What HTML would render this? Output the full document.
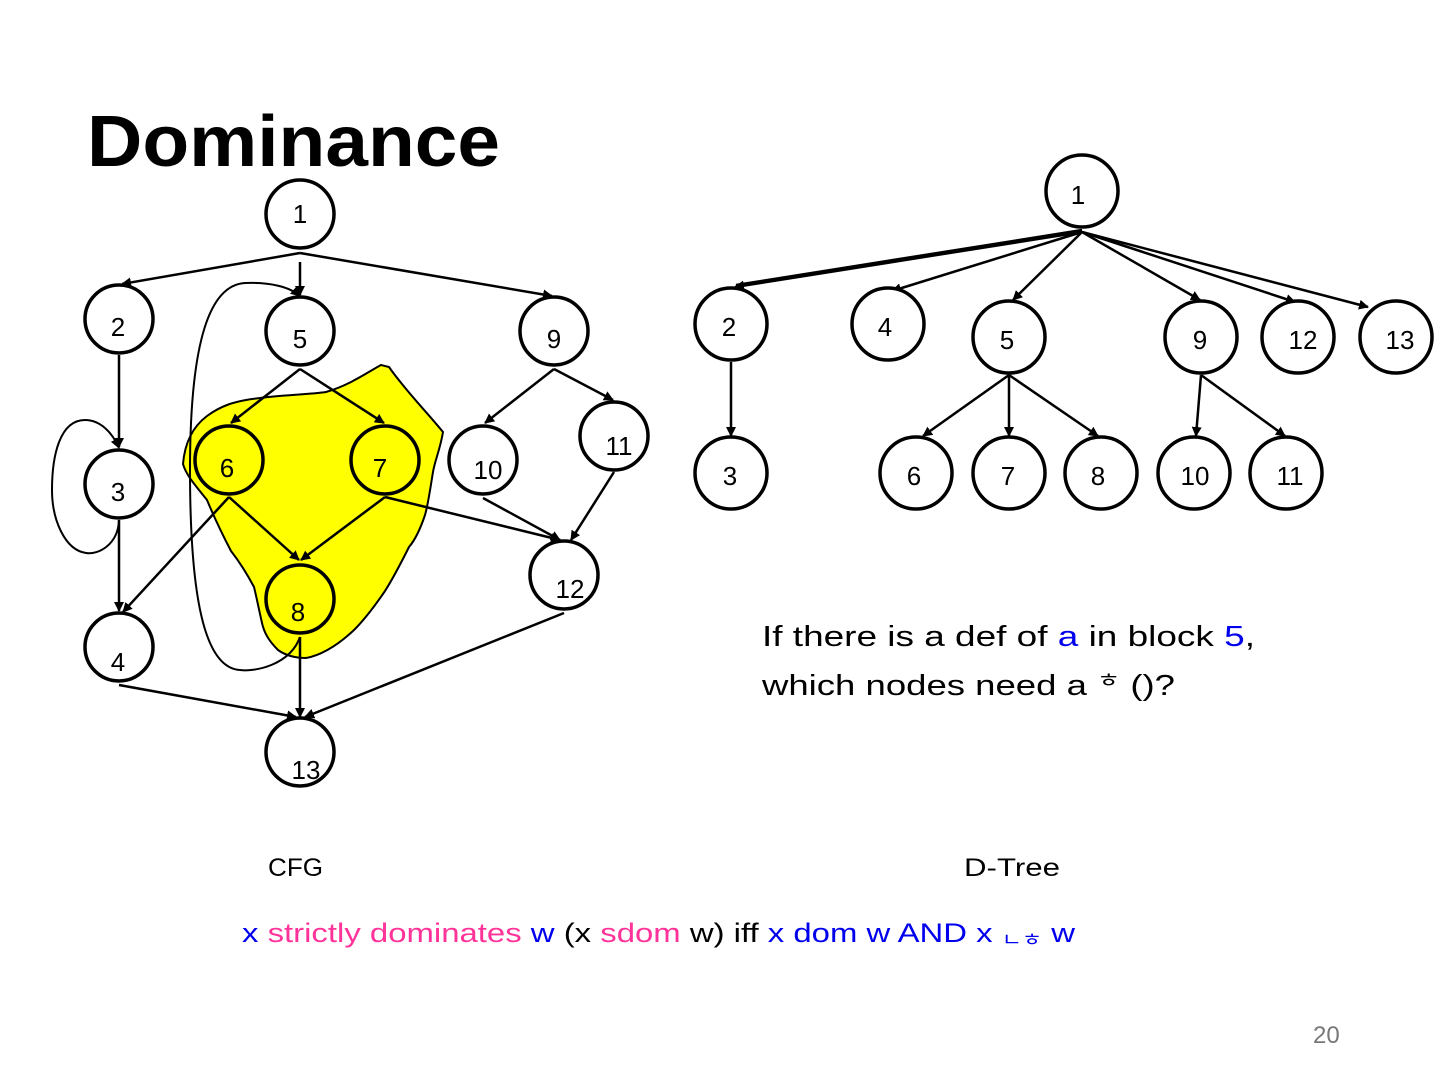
<!DOCTYPE html>
<html><head><meta charset="utf-8"><style>
html,body{margin:0;padding:0;background:#fff;}
svg{display:block;font-family:"Liberation Sans","Noto Sans CJK KR",sans-serif;}
</style></head><body>
<svg width="1440" height="1080" viewBox="0 0 1440 1080" xmlns="http://www.w3.org/2000/svg">
<defs>
<marker id="a" markerWidth="10" markerHeight="10" refX="9" refY="5" orient="auto" markerUnits="userSpaceOnUse">
<path d="M0,0 L10,5 L0,10 Z" fill="#000"/></marker>
</defs>
<text x="87" y="166" font-size="72" font-weight="bold" textLength="413" lengthAdjust="spacingAndGlyphs">Dominance</text>

<path d="M183,464 C185,440 195,425 207,416 C222,405 235,402 246,400 C275,395 305,395 326,392 C350,385 368,372 381,365 L389,367 C405,390 425,410 443,432 C440,450 435,460 433,472 C430,490 428,505 425,515 C420,530 415,540 409,547 C400,565 392,580 385,591 C372,610 362,622 354,630 C335,648 318,656 306,658 C295,658 285,655 278,650 C268,640 264,632 262,623 C258,605 256,595 254,587 C245,570 238,560 231,551 C220,530 212,512 207,500 C195,485 186,475 183,464 Z" fill="#ffff00" stroke="#000" stroke-width="2"/>

<g stroke="#000" stroke-width="2.5" fill="none">
<line x1="300" y1="253" x2="122" y2="284" marker-end="url(#a)"/>
<line x1="300" y1="253" x2="552" y2="296" marker-end="url(#a)"/>
<line x1="300" y1="262" x2="300" y2="295" marker-end="url(#a)"/>
<path d="M300,637 C290,665 255,672 240,670 C205,668 190,600 190,470 C190,340 210,285 245,283 C270,282 290,287 300,296" stroke-width="2" marker-end="url(#a)"/>
<line x1="119" y1="355" x2="119" y2="447" marker-end="url(#a)"/>
<path d="M119,520 C118,545 98,555 86,553 C65,550 52,520 52,490 C52,455 60,420 85,420 C100,420 112,432 119,448" stroke-width="2" marker-end="url(#a)"/>
<line x1="119" y1="520" x2="119" y2="611" marker-end="url(#a)"/>
<line x1="300" y1="369" x2="231" y2="423" marker-end="url(#a)"/>
<line x1="300" y1="369" x2="384" y2="423" marker-end="url(#a)"/>
<line x1="554" y1="369" x2="485" y2="423" marker-end="url(#a)"/>
<line x1="554" y1="369" x2="613" y2="400" marker-end="url(#a)"/>
<line x1="229" y1="497" x2="299" y2="560" marker-end="url(#a)"/>
<line x1="385" y1="497" x2="301" y2="560" marker-end="url(#a)"/>
<line x1="229" y1="497" x2="123" y2="612" marker-end="url(#a)"/>
<line x1="385" y1="497" x2="560" y2="540" marker-end="url(#a)"/>
<line x1="483" y1="498" x2="560" y2="540" marker-end="url(#a)"/>
<line x1="614" y1="472" x2="571" y2="540" marker-end="url(#a)"/>
<line x1="300" y1="637" x2="300" y2="717" marker-end="url(#a)"/>
<line x1="119" y1="685" x2="296" y2="717" marker-end="url(#a)"/>
<line x1="564" y1="613" x2="305" y2="717" marker-end="url(#a)"/>

<line x1="1082" y1="232" x2="735" y2="287" marker-end="url(#a)"/>
<line x1="1082" y1="230" x2="736" y2="285"/>
<line x1="1082" y1="232" x2="892" y2="291" marker-end="url(#a)"/>
<line x1="1082" y1="232" x2="1013" y2="300" marker-end="url(#a)"/>
<line x1="1082" y1="232" x2="1200" y2="300" marker-end="url(#a)"/>
<line x1="1082" y1="232" x2="1295" y2="302" marker-end="url(#a)"/>
<line x1="1082" y1="232" x2="1368" y2="307" marker-end="url(#a)"/>
<line x1="731" y1="362" x2="731" y2="436" marker-end="url(#a)"/>
<line x1="1009" y1="375" x2="923" y2="436" marker-end="url(#a)"/>
<line x1="1009" y1="375" x2="1009" y2="436" marker-end="url(#a)"/>
<line x1="1009" y1="375" x2="1098" y2="436" marker-end="url(#a)"/>
<line x1="1201" y1="375" x2="1196" y2="436" marker-end="url(#a)"/>
<line x1="1201" y1="375" x2="1285" y2="436" marker-end="url(#a)"/>
</g>

<g stroke="#000" stroke-width="3.5">
<circle cx="300" cy="214" r="34" fill="#fff"/>
<circle cx="119" cy="319" r="34" fill="#fff"/>
<circle cx="300" cy="331" r="34" fill="#fff"/>
<circle cx="554" cy="331" r="34" fill="#fff"/>
<circle cx="119" cy="484" r="34" fill="#fff"/>
<circle cx="229" cy="460" r="34" fill="#ffff00"/>
<circle cx="385" cy="460" r="34" fill="#ffff00"/>
<circle cx="483" cy="460" r="34" fill="#fff"/>
<circle cx="614" cy="436" r="34" fill="#fff"/>
<circle cx="564" cy="575" r="34" fill="#fff"/>
<circle cx="300" cy="599" r="34" fill="#ffff00"/>
<circle cx="119" cy="647" r="34" fill="#fff"/>
<circle cx="300" cy="752" r="34" fill="#fff"/>
<ellipse cx="1082" cy="191" rx="36" ry="36" fill="#fff"/>
<ellipse cx="731" cy="324" rx="36" ry="36" fill="#fff"/>
<ellipse cx="888" cy="324" rx="36" ry="36" fill="#fff"/>
<ellipse cx="1009" cy="337" rx="36" ry="36" fill="#fff"/>
<ellipse cx="1201" cy="337" rx="36" ry="36" fill="#fff"/>
<ellipse cx="1298" cy="337" rx="36" ry="36" fill="#fff"/>
<ellipse cx="1396" cy="337" rx="36" ry="36" fill="#fff"/>
<ellipse cx="731" cy="473" rx="36" ry="36" fill="#fff"/>
<ellipse cx="916" cy="473" rx="36" ry="36" fill="#fff"/>
<ellipse cx="1009" cy="473" rx="36" ry="36" fill="#fff"/>
<ellipse cx="1101" cy="473" rx="36" ry="36" fill="#fff"/>
<ellipse cx="1194" cy="473" rx="36" ry="36" fill="#fff"/>
<ellipse cx="1286" cy="473" rx="36" ry="36" fill="#fff"/>
</g>

<g font-size="26" text-anchor="middle">
<text x="300" y="223">1</text>
<text x="118" y="336">2</text>
<text x="300" y="348">5</text>
<text x="554" y="348">9</text>
<text x="118" y="501">3</text>
<text x="227" y="477">6</text>
<text x="380" y="477">7</text>
<text x="488" y="479">10</text>
<text x="619" y="455">11</text>
<text x="570" y="598">12</text>
<text x="298" y="621">8</text>
<text x="118" y="671">4</text>
<text x="306" y="779">13</text>

<text x="1078" y="204">1</text>
<text x="729" y="336">2</text>
<text x="885" y="336">4</text>
<text x="1007" y="349">5</text>
<text x="1200" y="349">9</text>
<text x="1303" y="349">12</text>
<text x="1400" y="349">13</text>
<text x="730" y="485">3</text>
<text x="914" y="485">6</text>
<text x="1008" y="485">7</text>
<text x="1098" y="485">8</text>
<text x="1195" y="485">10</text>
<text x="1290" y="485">11</text>
</g>

<g font-size="29">
<text x="762" y="646" textLength="493" lengthAdjust="spacingAndGlyphs">If there is a def of <tspan fill="#0000ee">a</tspan> in block <tspan fill="#0000ee">5</tspan>,</text>
<text x="762" y="695" textLength="413" lengthAdjust="spacingAndGlyphs">which nodes need a <tspan font-size="20" dy="-8">ㅎ</tspan><tspan dy="8"> ()?</tspan></text>
</g>
<text x="268" y="876" font-size="25" textLength="55" lengthAdjust="spacingAndGlyphs">CFG</text>
<text x="964" y="876" font-size="25" textLength="96" lengthAdjust="spacingAndGlyphs">D-Tree</text>
<text x="242" y="942" font-size="27" textLength="833" lengthAdjust="spacingAndGlyphs"><tspan fill="#0000ee">x </tspan><tspan fill="#ff3399">strictly dominates</tspan><tspan fill="#0000ee"> w</tspan> (x <tspan fill="#ff3399">sdom</tspan> w) iff <tspan fill="#0000ee">x dom w AND x </tspan><tspan fill="#0000ee" font-size="18" dy="4">ㄴㅎ</tspan><tspan fill="#0000ee" dy="-4"> w</tspan></text>
<text x="1313" y="1043" font-size="24" fill="#777">20</text>
</svg>
</body></html>
